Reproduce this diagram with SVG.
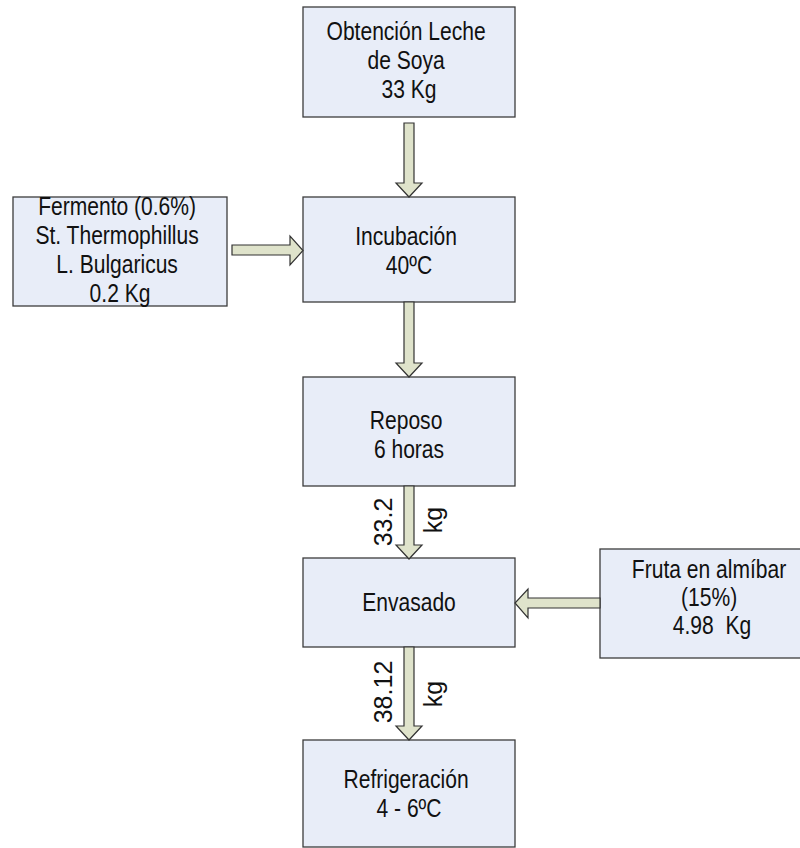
<svg xmlns="http://www.w3.org/2000/svg" width="800" height="848" viewBox="0 0 800 848">
  <style>
    .box { fill: #e8edf8; stroke: #3c3c3c; stroke-width: 1.3; }
    .arrow { fill: #dfe3cb; stroke: #333333; stroke-width: 1.2; stroke-linejoin: miter; }
    .lbl { font-family: "Liberation Sans", Arial, sans-serif; font-size: 26px; fill: #111111; text-anchor: middle; }
    .rot { font-family: "Liberation Sans", Arial, sans-serif; font-size: 25px; fill: #111111; text-anchor: middle; }
  </style>

  <rect width="800" height="848" fill="#ffffff"/>

  <!-- Process steps -->
  <g id="obtencion">
    <rect class="box" x="303" y="7" width="212" height="110"/>
    <text class="lbl" transform="translate(409 0) scale(0.81 1)">
      <tspan x="0" y="40">Obtención Leche</tspan>
      <tspan x="0" y="69">de Soya</tspan>
      <tspan x="0" y="98">33 Kg</tspan>
    </text>
  </g>

  <g id="fermento">
    <rect class="box" x="13" y="197" width="214" height="109"/>
    <text class="lbl" transform="translate(120 0) scale(0.81 1)">
      <tspan x="0" y="215">Fermento (0.6%)</tspan>
      <tspan x="0" y="244">St. Thermophillus</tspan>
      <tspan x="0" y="273">L. Bulgaricus</tspan>
      <tspan x="0" y="302">0.2 Kg</tspan>
    </text>
  </g>

  <g id="incubacion">
    <rect class="box" x="303" y="197" width="212" height="105"/>
    <text class="lbl" transform="translate(409 0) scale(0.81 1)">
      <tspan x="0" y="245">Incubación</tspan>
      <tspan x="0" y="274">40ºC</tspan>
    </text>
  </g>

  <g id="reposo">
    <rect class="box" x="303" y="377" width="212" height="109"/>
    <text class="lbl" transform="translate(409 0) scale(0.81 1)">
      <tspan x="0" y="429">Reposo</tspan>
      <tspan x="0" y="458">6 horas</tspan>
    </text>
  </g>

  <g id="envasado">
    <rect class="box" x="303" y="558" width="212" height="89"/>
    <text class="lbl" transform="translate(409 0) scale(0.81 1)">
      <tspan x="0" y="611">Envasado</tspan>
    </text>
  </g>

  <g id="fruta">
    <rect class="box" x="600" y="549" width="224" height="109"/>
    <text class="lbl" transform="translate(712 0) scale(0.81 1)">
      <tspan x="0" y="578">Fruta en almíbar</tspan>
      <tspan x="0" y="606">(15%)</tspan>
      <tspan x="0" y="634">4.98&#160; Kg</tspan>
    </text>
  </g>

  <g id="refrigeracion">
    <rect class="box" x="303" y="740" width="212" height="107"/>
    <text class="lbl" transform="translate(409 0) scale(0.81 1)">
      <tspan x="0" y="788">Refrigeración</tspan>
      <tspan x="0" y="817">4 - 6ºC</tspan>
    </text>
  </g>

  <!-- Block arrows between steps -->
  <g id="connectors">
    <path class="arrow" d="M404 123 H414 V183 H422 L409 197 L396 183 H404 Z"/>
    <path class="arrow" d="M404 302 H414 V363 H422 L409 377 L396 363 H404 Z"/>
    <path class="arrow" d="M404 486 H414 V545 H422 L409 559 L396 545 H404 Z"/>
    <path class="arrow" d="M404 647 H414 V726 H422 L409 740 L396 726 H404 Z"/>
    <path class="arrow" d="M232 245 H290 V236 L303 250.5 L290 265 V255 H232 Z"/>
    <path class="arrow" d="M600 598 H528 V589 L515 603 L528 618 V608 H600 Z"/>

    <text class="rot" transform="translate(392 522) rotate(-90)">33.2</text>
    <text class="rot" transform="translate(442 520) rotate(-90)">kg</text>
    <text class="rot" transform="translate(392 692) rotate(-90)">38.12</text>
    <text class="rot" transform="translate(442 694) rotate(-90)">kg</text>
  </g>
</svg>
